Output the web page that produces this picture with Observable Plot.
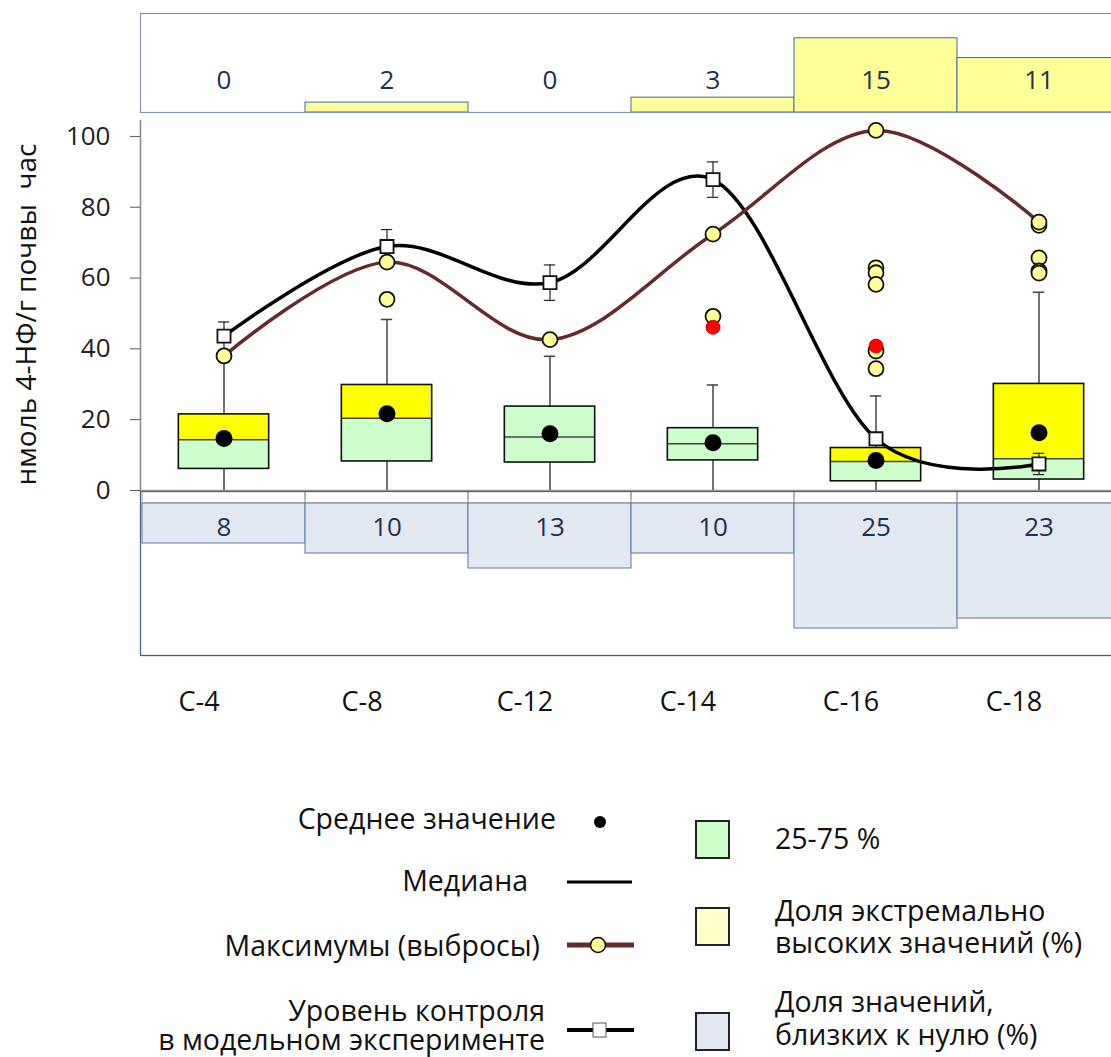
<!DOCTYPE html>
<html><head><meta charset="utf-8">
<script src="https://cdn.jsdelivr.net/npm/d3@7"></script>
<script src="https://cdn.jsdelivr.net/npm/@observablehq/plot@0.6"></script>
<style>
html,body{margin:0;padding:0;overflow:hidden;background:#fff;}
#root{position:relative;width:1111px;height:1057px;overflow:hidden;font-family:"Open Sans",sans-serif;}
.layer{position:absolute;left:0;}
.layer svg{overflow:visible;max-width:none;}
.lg{position:absolute;font-size:28.5px;color:#111;white-space:pre;line-height:1;transform:translateY(-50%);}
.lg.r{text-align:right;}
.sym{position:absolute;overflow:visible;}
</style></head><body><div id="root"></div>
<script>
// ---- data ----
const categories = ["С-4","С-8","С-12","С-14","С-16","С-18"];
const extremeShare = [0, 2, 0, 3, 15, 11];          // top panel, %
const nearZeroShare = [8, 10, 13, 10, 25, 23];      // bottom panel, %
const q1 = [6.1, 8.2, 7.9, 8.5, 2.6, 3.1];
const median = [14.3, 20.4, 15.1, 13.2, 8.2, 9.0];
const q3 = [21.5, 29.8, 23.7, 17.6, 12.0, 30.1];
const mean = [14.7, 21.7, 16.0, 13.5, 8.5, 16.3];
const whiskerLow = [0, 0, 0, 0, 0, 0];
const whiskerHigh = [38.0, 48.3, 37.9, 29.8, 26.7, 56.0];
const maxima = [38.0, 64.5, 42.6, 72.4, 101.7, 75.8];
const upperHalfHighlighted = [true, true, false, false, true, true];
const outlierCategory = ["С-8","С-14","С-16","С-16","С-16","С-16","С-16","С-18","С-18","С-18","С-18"];
const outlierValue = [54.0, 49.2, 62.9, 61.5, 58.2, 39.4, 34.4, 74.9, 65.7, 62.0, 61.4];
const redOutlierCategory = ["С-14","С-16"];
const redOutlierValue = [46.1, 40.8];
const controlLevel = [43.6, 68.9, 58.7, 87.8, 14.6, 7.5];
const controlError = [4.0, 4.8, 5.0, 5.0, 1.2, 3.0];
const yTicks = [0, 20, 40, 60, 80, 100];
const yLabel = "нмоль 4-НФ/г почвы \u00a0час";

// ---- derived tables ----
const boxes = categories.map((c, i) => ({cat: c, q1: q1[i], median: median[i], q3: q3[i], mean: mean[i],
  lo: whiskerLow[i], hi: whiskerHigh[i], max: maxima[i], hl: upperHalfHighlighted[i],
  ctrl: controlLevel[i], ctrlLo: controlLevel[i] - controlError[i], ctrlHi: controlLevel[i] + controlError[i]}));
const topRows = categories.map((c, i) => ({cat: c, value: extremeShare[i]}));
const bottomRows = categories.map((c, i) => ({cat: c, value: nearZeroShare[i]}));
const outliers = outlierCategory.map((c, i) => ({cat: c, value: outlierValue[i]}));
const redOutliers = redOutlierCategory.map((c, i) => ({cat: c, value: redOutlierValue[i]}));

// ---- layout ----
const W = 1122, ML = 140;
const BW = (W - ML) / categories.length;
const FONT = "Open Sans";
const GREEN = "#ccffcc", YELLOW = "#ffff00", PALEYELLOW = "#ffff99", BLUEGRAY = "#e3e9f3";
const NAVY = "#1f2f4f";
const boxInset = (BW - 91) / 2, capInset = (BW - 12) / 2;
const common = {width: W, marginLeft: ML, marginRight: 0, style: {background: "transparent", fontFamily: FONT, overflow: "visible", maxWidth: "none"}};
const xScale = {domain: categories, padding: 0, axis: null};
const root = document.getElementById("root");
function place(node, top) { const d = document.createElement("div"); d.className = "layer"; d.style.top = top + "px"; d.appendChild(node); root.appendChild(d); }

// top panel: share of extremely high values
const topPlot = Plot.plot({...common, height: 113, marginTop: 13, marginBottom: 1,
  x: xScale, y: {domain: [0, 20], axis: null},
  marks: [
    Plot.barY(topRows.filter(d => d.value > 0), {x: "cat", y: "value", fill: PALEYELLOW, stroke: "#4a6a94", strokeWidth: 1}),
    Plot.frame({stroke: "#8395ae", strokeWidth: 1.2}),
    Plot.text(topRows, {x: "cat", text: d => String(d.value), frameAnchor: "bottom", lineAnchor: "middle", dy: -32, fontSize: 26, fill: NAVY})
  ]});
place(topPlot, 0);

// main panel
const mainPlot = Plot.plot({...common, height: 500, marginTop: 120, marginBottom: 10,
  x: xScale, y: {domain: [0, 104.5], axis: null},
  marks: [
    Plot.frame({anchor: "left", stroke: "#888", strokeWidth: 1.5}),
    Plot.frame({anchor: "bottom", stroke: "#999", strokeWidth: 1.5}),
    Plot.ruleX(categories.slice(1), {x: d => d, dx: -BW / 2, y1: 0, y2: 0, insetBottom: -8, stroke: "#999", strokeWidth: 1.2}),
    Plot.axisY(yTicks, {tickSize: 10, tickPadding: 20, fontSize: 26, fontFamily: FONT, color: "#222", stroke: "#555"}),
    Plot.text([yLabel], {frameAnchor: "left", textAnchor: "middle", lineAnchor: "middle", rotate: -90, dx: -113, dy: 9, fontSize: 28, fill: "#111"}),
    Plot.ruleX(boxes, {x: "cat", y1: "lo", y2: "hi", stroke: "#444", strokeWidth: 1.5}),
    Plot.tickY(boxes.filter(d => d.hi < d.max), {x: "cat", y: "hi", stroke: "#444", strokeWidth: 1.5, insetLeft: capInset, insetRight: capInset}),
    Plot.barY(boxes, {x: "cat", y1: "q1", y2: "median", fill: GREEN, insetLeft: boxInset, insetRight: boxInset}),
    Plot.barY(boxes, {x: "cat", y1: "median", y2: "q3", fill: d => d.hl ? YELLOW : GREEN, insetLeft: boxInset, insetRight: boxInset}),
    Plot.tickY(boxes, {x: "cat", y: "median", stroke: "#444", strokeWidth: 1.5, insetLeft: boxInset, insetRight: boxInset}),
    Plot.barY(boxes, {x: "cat", y1: "q1", y2: "q3", fill: "none", stroke: "#111", strokeWidth: 1.6, insetLeft: boxInset, insetRight: boxInset}),
    Plot.dot(boxes, {x: "cat", y: "mean", r: 8.5, fill: "black"}),
    Plot.line(boxes, {x: "cat", y: "ctrl", curve: "cardinal", stroke: "black", strokeWidth: 3.5}),
    Plot.line(boxes, {x: "cat", y: "max", curve: "cardinal", stroke: "#632b2b", strokeWidth: 3.5}),
    Plot.ruleX(boxes, {x: "cat", y1: "ctrlLo", y2: "ctrlHi", stroke: "#222", strokeWidth: 1.2}),
    Plot.tickY(boxes, {x: "cat", y: "ctrlHi", stroke: "#222", strokeWidth: 1.2, insetLeft: capInset, insetRight: capInset}),
    Plot.tickY(boxes, {x: "cat", y: "ctrlLo", stroke: "#222", strokeWidth: 1.2, insetLeft: capInset, insetRight: capInset}),
    Plot.dot(outliers, {x: "cat", y: "value", r: 7.5, fill: PALEYELLOW, stroke: "#111", strokeWidth: 1.8}),
    Plot.dot(redOutliers, {x: "cat", y: "value", r: 7, fill: "#ff0000", stroke: "#a00", strokeWidth: 0.8}),
    Plot.dot(boxes, {x: "cat", y: "max", r: 7.5, fill: PALEYELLOW, stroke: "#111", strokeWidth: 1.8}),
    Plot.dot(boxes, {x: "cat", y: "ctrl", symbol: "square", r: 7.4, fill: "white", stroke: "#111", strokeWidth: 1.8})
  ]});
place(mainPlot, 0);

// bottom panel: share of near-zero values + category labels
const bottomPlot = Plot.plot({...common, height: 250, marginTop: 0, marginBottom: 86,
  x: xScale, y: {domain: [0, 30], range: [12, 162], axis: null},
  marks: [
    Plot.barY(categories, {x: d => d, y1: 0, y2: 0, insetTop: -12, fill: "none", stroke: "#aaa", strokeWidth: 1}),
    Plot.barY(bottomRows, {x: "cat", y: "value", fill: BLUEGRAY, stroke: "#5a78a6", strokeWidth: 1}),
    Plot.frame({stroke: "#4a6088", strokeWidth: 1.3}),
    Plot.text(bottomRows, {x: "cat", text: d => String(d.value), frameAnchor: "top", lineAnchor: "middle", dy: 36, fontSize: 26, fill: NAVY}),
    Plot.axisX({anchor: "bottom", label: null, tickSize: 0, tickPadding: 36, dx: -25, fontSize: 27, fontFamily: FONT, color: "#111"})
  ]});
place(bottomPlot, 491);

// ---- legend ----
function label(text, x, y, right, lh) {
  const d = document.createElement("div"); d.className = "lg" + (right ? " r" : "");
  d.textContent = text; d.style.top = y + "px";
  if (lh) d.style.lineHeight = lh + "px";
  if (right) d.style.right = (1111 - x) + "px"; else d.style.left = x + "px";
  root.appendChild(d);
}
function svgSym(x, y, w, h, inner) {
  const s = document.createElementNS("http://www.w3.org/2000/svg", "svg");
  s.setAttribute("class", "sym"); s.setAttribute("width", w); s.setAttribute("height", h);
  s.style.left = x + "px"; s.style.top = y + "px"; s.innerHTML = inner; root.appendChild(s);
}
label("Среднее значение", 556, 818, true);
svgSym(590, 812, 20, 20, '<circle cx="10" cy="10" r="6" fill="black"/>');
label("Медиана", 528, 880, true);
svgSym(565, 872, 70, 20, '<line x1="2" x2="67" y1="10" y2="10" stroke="black" stroke-width="3"/>');
label("Максимумы (выбросы)", 540, 945, true);
svgSym(565, 935, 72, 20, '<line x1="2" x2="69" y1="10" y2="10" stroke="#632b2b" stroke-width="5"/><circle cx="33" cy="10" r="7.5" fill="#ffff99" stroke="black" stroke-width="1.5"/>');
label("Уровень контроля\nв модельном эксперименте", 545, 1025, true, 29);
svgSym(565, 1020, 72, 20, '<line x1="2" x2="69" y1="10" y2="10" stroke="black" stroke-width="4"/><rect x="28" y="3" width="13" height="14" fill="white" stroke="#555" stroke-width="1"/>');
svgSym(694, 819, 38, 42, '<rect x="2" y="2" width="33" height="37" fill="#ccffcc" stroke="#222" stroke-width="2"/>');
svgSym(694, 906, 38, 42, '<rect x="2" y="2" width="33" height="37" fill="#ffffcc" stroke="#222" stroke-width="2"/>');
svgSym(694, 1011, 38, 42, '<rect x="2" y="2" width="33" height="37" fill="#e3e8f2" stroke="#222" stroke-width="2"/>');
label("25-75 %", 775, 838, false);
label("Доля экстремально\nвысоких значений (%)", 775, 926, false, 32);
label("Доля значений,\nблизких к нулю (%)", 775, 1018, false, 33);
</script></body></html>
